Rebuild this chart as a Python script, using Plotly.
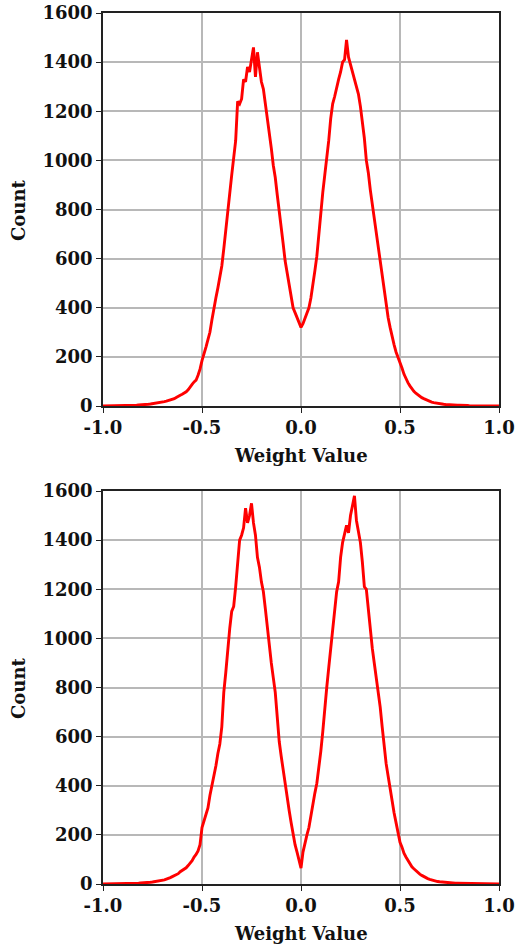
import plotly.graph_objects as go

# ---- data ----
x_vals = [round(-1.0 + 0.01 * i, 2) for i in range(201)]

top_counts = [
    0, 0, 0, 0, 0, 0, 0, 1, 1, 1, 1, 1, 2, 2, 2,            # -1.00 .. -0.86
    2, 3, 3, 4, 4, 5, 6, 6, 7, 8, 9, 10, 12, 13, 14,        # -0.85 .. -0.71
    16, 18, 20, 22, 25, 28, 30, 35, 38, 44, 48, 52, 58, 66, 75,   # -0.70 .. -0.56
    88, 98, 105, 125, 150, 185, 210, 240, 270, 300, 350, 400, 440, 480, 530,  # -0.55 .. -0.41
    570, 640, 720, 810, 870, 940, 1010, 1080, 1240, 1230, 1250, 1330, 1320, 1380, 1360,  # -0.40 .. -0.26
    1410, 1460, 1340, 1440, 1380, 1320, 1290, 1230, 1190, 1110, 1050, 980, 930, 860, 800,  # -0.25 .. -0.11
    730, 660, 590, 540, 490, 440, 400, 380, 360, 340,      # -0.10 .. -0.01
    320,                                                    # 0.00
    335, 355, 380, 400, 440, 490, 550, 610, 700, 800,      # 0.01 .. 0.10
    870, 940, 1000, 1080, 1170, 1230, 1260, 1300, 1330, 1360, 1400, 1410, 1490, 1420, 1390,  # 0.11 .. 0.25
    1370, 1330, 1310, 1270, 1220, 1160, 1090, 1000, 950, 880, 820, 760, 700, 640, 590,  # 0.26 .. 0.40
    520, 460, 410, 360, 320, 280, 250, 220, 200, 175, 155, 130, 110, 95, 82,  # 0.41 .. 0.55
    70, 60, 52, 45, 40, 34, 30, 26, 22, 19, 16, 14, 12, 10, 9,  # 0.56 .. 0.70
    8, 7, 6, 5, 5, 4, 4, 3, 3, 3, 2, 2, 2, 2, 1,           # 0.71 .. 0.85
    1, 1, 1, 1, 1, 1, 1, 0, 0, 0, 0, 0, 0, 0, 0,           # 0.86 .. 1.00
]

bottom_counts = [
    0, 0, 0, 0, 0, 0, 1, 1, 1, 1, 1, 1, 2, 2, 2,            # -1.00 .. -0.86
    2, 3, 3, 3, 4, 4, 5, 5, 6, 7, 8, 9, 10, 12, 13,         # -0.85 .. -0.71
    15, 17, 20, 22, 26, 30, 33, 38, 42, 50, 55, 60, 66, 75, 85,   # -0.70 .. -0.56
    95, 110, 120, 135, 160, 230, 260, 280, 310, 360, 400, 430, 480, 530, 570,  # -0.55 .. -0.41
    640, 780, 860, 960, 1040, 1110, 1130, 1210, 1300, 1400, 1420, 1450, 1530, 1470, 1500,  # -0.40 .. -0.26
    1550, 1470, 1420, 1330, 1290, 1230, 1190, 1120, 1040, 960, 900, 840, 780, 680, 580,  # -0.25 .. -0.11
    520, 460, 400, 340, 300, 250, 200, 160, 130, 100,      # -0.10 .. -0.01
    65,                                                     # 0.00
    130, 170, 200, 230, 280, 330, 370, 410, 470, 540,      # 0.01 .. 0.10
    620, 720, 800, 880, 960, 1040, 1130, 1190, 1230, 1330, 1390, 1420, 1460, 1430, 1500,  # 0.11 .. 0.25
    1540, 1580, 1480, 1430, 1390, 1310, 1210, 1200, 1110, 1020, 960, 900, 840, 790, 720,  # 0.26 .. 0.40
    640, 560, 490, 440, 390, 330, 290, 250, 210, 170, 150, 125, 110, 95, 80,  # 0.41 .. 0.55
    70, 62, 54, 46, 40, 35, 30, 25, 22, 19, 16, 14, 12, 10, 9,  # 0.56 .. 0.70
    8, 7, 6, 5, 5, 4, 4, 3, 3, 3, 2, 2, 2, 2, 1,           # 0.71 .. 0.85
    1, 1, 1, 1, 1, 1, 1, 1, 0, 0, 0, 0, 0, 0, 0,           # 0.86 .. 1.00
]

x_tick_vals = [-1.0, -0.5, 0.0, 0.5, 1.0]
x_tick_text = ["-1.0", "-0.5", "0.0", "0.5", "1.0"]
y_tick_vals = [0, 200, 400, 600, 800, 1000, 1200, 1400, 1600]
y_tick_text = ["0", "200", "400", "600", "800", "1000", "1200", "1400", "1600"]

x_title = "Weight Value"
y_title = "Count"

# ---- figure ----
W, H = 518, 945
FONT = "DejaVu Serif"
fig = go.Figure()

fig.add_trace(go.Scatter(x=x_vals, y=top_counts, mode="lines",
                         line=dict(color="#ff0000", width=2.9),
                         xaxis="x", yaxis="y", showlegend=False))
fig.add_trace(go.Scatter(x=x_vals, y=bottom_counts, mode="lines",
                         line=dict(color="#ff0000", width=2.9),
                         xaxis="x2", yaxis="y2", showlegend=False))

xdom = [103 / W, 499 / W]
ydom_top = [(H - 406) / H, (H - 13) / H]
ydom_bot = [(H - 884) / H, (H - 491) / H]

tickfont = dict(family=FONT, size=18, color="#111111")
bold = lambda lst: ["<b>%s</b>" % t for t in lst]
common_x = dict(range=[-1, 1], tickvals=x_tick_vals, ticktext=bold(x_tick_text),
                showgrid=True, gridcolor="#b8b8b8", gridwidth=1.5,
                showline=True, linecolor="#222222", linewidth=1.6, mirror=True,
                ticks="outside", ticklen=5, tickwidth=1.4, tickcolor="#222222",
                tickfont=tickfont, zeroline=False, domain=xdom, automargin=False)
common_y = dict(range=[0, 1600], tickvals=y_tick_vals, ticktext=bold(y_tick_text),
                showgrid=True, gridcolor="#b8b8b8", gridwidth=1.5,
                showline=True, linecolor="#222222", linewidth=1.6, mirror=True,
                ticks="outside", ticklen=5, tickwidth=1.4, tickcolor="#222222",
                tickfont=tickfont, zeroline=False, automargin=False)

fig.update_layout(
    width=W, height=H, autosize=False,
    margin=dict(l=0, r=0, t=0, b=0, pad=0, autoexpand=False),
    paper_bgcolor="white", plot_bgcolor="white",
    font=dict(family=FONT, color="#111111"),
    xaxis=dict(**common_x, anchor="y"),
    yaxis=dict(**common_y, domain=ydom_top, anchor="x"),
    xaxis2=dict(**common_x, anchor="y2"),
    yaxis2=dict(**common_y, domain=ydom_bot, anchor="x2"),
)

title_font = dict(family=FONT, size=18, color="#111111")
annos = [
    dict(text="<b>%s</b>" % x_title, x=301 / W, y=(H - 455) / H),
    dict(text="<b>%s</b>" % x_title, x=301 / W, y=(H - 933) / H),
    dict(text="<b>%s</b>" % y_title, x=18 / W, y=(H - 210) / H, textangle=-90),
    dict(text="<b>%s</b>" % y_title, x=18 / W, y=(H - 688) / H, textangle=-90),
]
for a in annos:
    fig.add_annotation(xref="paper", yref="paper", showarrow=False,
                       xanchor="center", yanchor="middle", font=title_font, **a)

fig.write_html("out.html")
